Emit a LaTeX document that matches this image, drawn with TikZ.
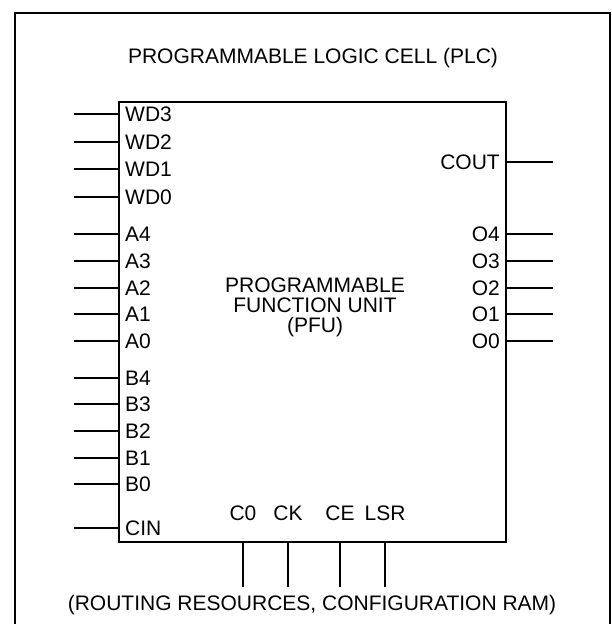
\documentclass[tikz,border=0pt]{standalone}
\usepackage{fontspec}
\setmainfont{Liberation Sans}
\usetikzlibrary{arrows}
\newcommand{\pinfont}{\fontsize{21}{20}\selectfont}

\begin{document}
\begin{tikzpicture}[x=1pt,y=-1pt]
\tikzstyle{every node}=[font=\pinfont,inner sep=0pt]
\tikzstyle{frame}=[line width=2.6pt]
\tikzstyle{wire}=[line width=1.5pt]
\tikzstyle{pinW}=[anchor=west,inner xsep=6pt]
\tikzstyle{pinE}=[anchor=east,inner xsep=6pt]
\useasboundingbox (0,0) rectangle (612,624);
% outer cell, open at the bottom
\draw[frame] (15,630) -- (15,13) -- (610,13) -- (610,630);
\node (plc) at (313,58) {PROGRAMMABLE LOGIC CELL (PLC)};
% function unit
\draw[frame] (119,102) rectangle (506,542);
\node[align=center] (pfu) at (315,307) {PROGRAMMABLE\\FUNCTION UNIT\\(PFU)};
% inputs on the left
\foreach \name/\y in {WD3/114,WD2/142,WD1/169,WD0/197,A4/234,A3/261,A2/288,A1/314,A0/341,B4/378,B3/404,B2/431,B1/458,B0/484,CIN/528}{
  \node[pinW] (p\name) at (119,\y) {\name};
  \coordinate (e\name) at (74,\y);
  \draw[wire] (e\name) -- (p\name.west);
}
% outputs on the right
\foreach \name/\y in {COUT/162,O4/234,O3/261,O2/288,O1/314,O0/341}{
  \node[pinE] (p\name) at (506,\y) {\name};
  \coordinate (e\name) at (553,\y);
  \draw[wire] (p\name.east) -- (e\name);
}
% control inputs at the bottom
\foreach \name/\x in {C0/243,CK/288,CE/340,LSR/385}{
  \node (p\name) at (\x,513) {\name};
  \coordinate (t\name) at (\x,542);
  \coordinate (e\name) at (\x,587);
  \draw[wire] (t\name) -- (e\name);
}
\node (rr) at (312,605) {(ROUTING RESOURCES, CONFIGURATION RAM)};
\end{tikzpicture}
\end{document}
